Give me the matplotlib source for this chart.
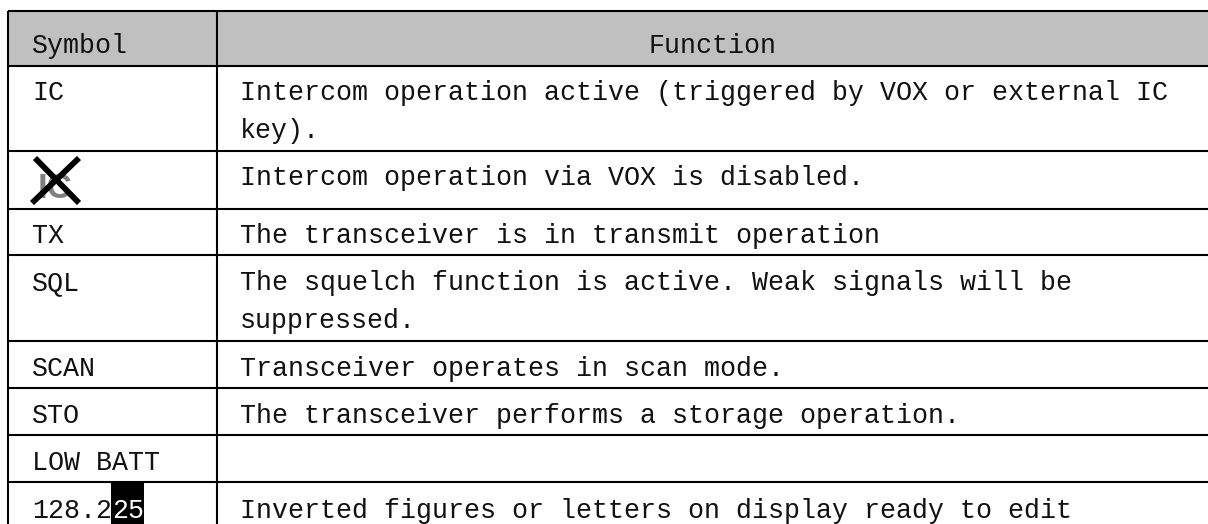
import matplotlib
matplotlib.use('Agg')
import matplotlib.pyplot as plt

header = ['Symbol', 'Function']
symbols = ['IC', '', 'TX', 'SQL', 'SCAN', 'STO', 'LOW BATT', '128.2']
functions = [
    'Intercom operation active (triggered by VOX or external IC\nkey).',
    'Intercom operation via VOX is disabled.',
    'The transceiver is in transmit operation',
    'The squelch function is active. Weak signals will be\nsuppressed.',
    'Transceiver operates in scan mode.',
    'The transceiver performs a storage operation.',
    '',
    'Inverted figures or letters on display ready to edit',
]
inverted = '25'

# horizontal rules and text baselines, in pixels of the picture
rules = [11, 65.5, 151, 209, 255, 341, 388, 435, 482]
baselines = [100, 185, 243, 290, 376, 423, 470, 518]
line_gap = 38.5

W, H = 1208, 524
left, col, xt1, xt2 = 8, 217, 32, 240
font = dict(family='Liberation Mono', fontsize=19.2, color='#111111', va='baseline')

fig = plt.figure(figsize=(W / 100, H / 100), dpi=100, facecolor='w')
ax = fig.add_axes([0, 0, 1, 1])
ax.set_xlim(0, W)
ax.set_ylim(H, 0)
ax.axis('off')

ax.fill_between([left, W], rules[0], rules[1], color='#c0c0c0', lw=0)
ax.hlines(rules, left, W, color='k', lw=1.5)
ax.vlines([left, col], rules[0], H, color='k', lw=1.5)

ax.text(xt1, 53, header[0], **font)
ax.text((col + W) / 2, 53, header[1], ha='center', **font)

for base, sym, func in zip(baselines, symbols, functions):
    ax.text(xt1, base, sym, **font)
    for i, part in enumerate(func.split('\n')):
        ax.text(xt2, base + i * line_gap, part, **font)

# crossed out IC symbol, the cross sits over the grey letters
ax.text(55, 198, 'IC', family='Liberation Sans', fontsize=25, color='#808080',
        ha='center', va='baseline', fontweight='bold')
ax.plot([35, 79], [158, 203], color='k', lw=4.2, solid_capstyle='butt', zorder=4)
ax.plot([32, 79], [203, 158], color='k', lw=4.2, solid_capstyle='butt', zorder=4)

# inverted digits
ax.fill_between([111, 144], 483, H, color='k', lw=0)
ax.text(112, 518, inverted, **{**font, 'color': 'w'})

fig.savefig('out.png', dpi=100)
